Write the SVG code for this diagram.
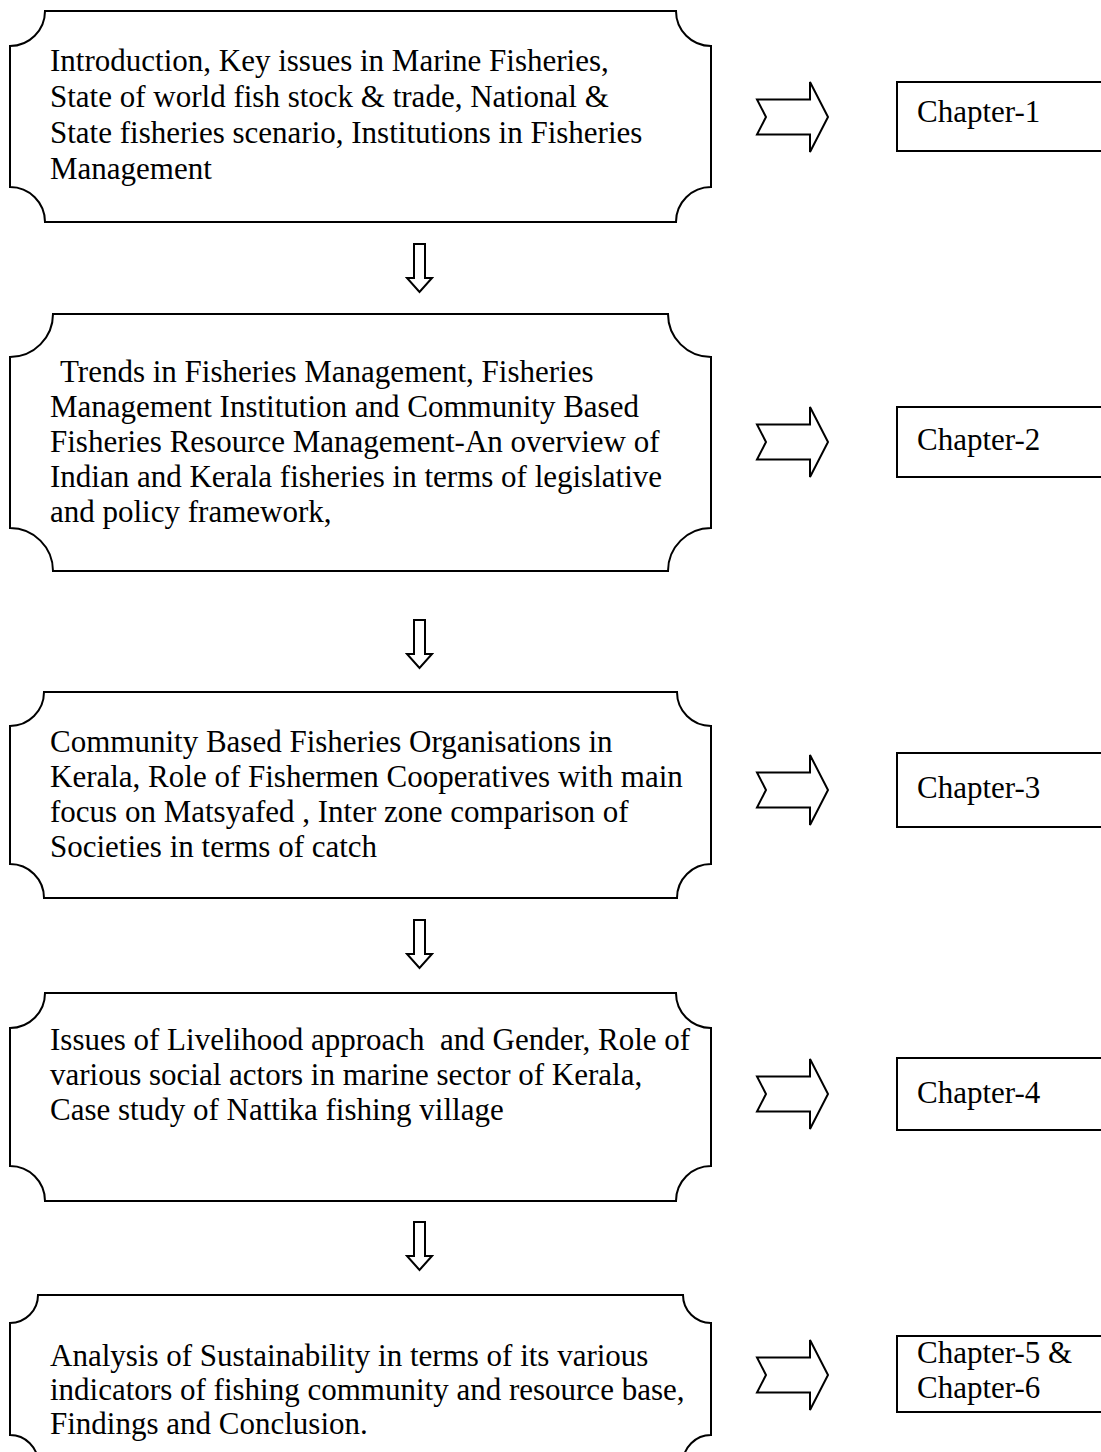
<svg xmlns="http://www.w3.org/2000/svg" width="1101" height="1452" viewBox="0 0 1101 1452">
  <style>
    .plaque { fill: #ffffff; stroke: #000000; stroke-width: 2; }
    .chap { fill: #ffffff; stroke: #000000; stroke-width: 2; }
    .arrow { fill: #ffffff; stroke: #000000; stroke-width: 2; stroke-linejoin: miter; }
    text { font-family: "Liberation Serif", "Times New Roman", serif; font-size: 31px; fill: #000000; }
  </style>
  <rect width="1101" height="1452" fill="#ffffff"/>

  <!-- Stage 1 -->
  <g id="stage1">
    <path class="plaque" d="M45,11 H676 A35,35 0 0 0 711,46 V187 A35,35 0 0 0 676,222 H45 A35,35 0 0 0 10,187 V46 A35,35 0 0 0 45,11 Z"/>
    <text x="50" y="71">Introduction, Key issues in Marine Fisheries,</text>
    <text x="50" y="107">State of world fish stock &amp; trade, National &amp;</text>
    <text x="50" y="143">State fisheries scenario, Institutions in Fisheries</text>
    <text x="50" y="179">Management</text>
  </g>
  <g id="chapter1">
    <rect class="chap" x="897" y="82" width="230" height="69"/>
    <text x="917" y="122">Chapter-1</text>
  </g>

  <!-- Stage 2 -->
  <g id="stage2">
    <path class="plaque" d="M53,314 H668 A43,43 0 0 0 711,357 V528 A43,43 0 0 0 668,571 H53 A43,43 0 0 0 10,528 V357 A43,43 0 0 0 53,314 Z"/>
    <text x="60" y="382">Trends in Fisheries Management, Fisheries</text>
    <text x="50" y="417">Management Institution and Community Based</text>
    <text x="50" y="452">Fisheries Resource Management-An overview of</text>
    <text x="50" y="487">Indian and Kerala fisheries in terms of legislative</text>
    <text x="50" y="522">and policy framework,</text>
  </g>
  <g id="chapter2">
    <rect class="chap" x="897" y="407" width="230" height="70"/>
    <text x="917" y="450">Chapter-2</text>
  </g>

  <!-- Stage 3 -->
  <g id="stage3">
    <path class="plaque" d="M44,692 H677 A34,34 0 0 0 711,726 V864 A34,34 0 0 0 677,898 H44 A34,34 0 0 0 10,864 V726 A34,34 0 0 0 44,692 Z"/>
    <text x="50" y="752">Community Based Fisheries Organisations in</text>
    <text x="50" y="787">Kerala, Role of Fishermen Cooperatives with main</text>
    <text x="50" y="822">focus on Matsyafed , Inter zone comparison of</text>
    <text x="50" y="857">Societies in terms of catch</text>
  </g>
  <g id="chapter3">
    <rect class="chap" x="897" y="753" width="230" height="74"/>
    <text x="917" y="798">Chapter-3</text>
  </g>

  <!-- Stage 4 -->
  <g id="stage4">
    <path class="plaque" d="M45,993 H676 A35,35 0 0 0 711,1028 V1166 A35,35 0 0 0 676,1201 H45 A35,35 0 0 0 10,1166 V1028 A35,35 0 0 0 45,993 Z"/>
    <text x="50" y="1050">Issues of Livelihood approach &#160;and Gender, Role of</text>
    <text x="50" y="1085">various social actors in marine sector of Kerala,</text>
    <text x="50" y="1120">Case study of Nattika fishing village</text>
  </g>
  <g id="chapter4">
    <rect class="chap" x="897" y="1058" width="230" height="72"/>
    <text x="917" y="1103">Chapter-4</text>
  </g>

  <!-- Stage 5 -->
  <g id="stage5">
    <path class="plaque" d="M38,1295 H683 A28,28 0 0 0 711,1323 V1435 A28,28 0 0 0 683,1463 H38 A28,28 0 0 0 10,1435 V1323 A28,28 0 0 0 38,1295 Z"/>
    <text x="50" y="1366">Analysis of Sustainability in terms of its various</text>
    <text x="50" y="1400">indicators of fishing community and resource base,</text>
    <text x="50" y="1434">Findings and Conclusion.</text>
  </g>
  <g id="chapter56">
    <rect class="chap" x="897" y="1336" width="230" height="76"/>
    <text x="917" y="1363">Chapter-5 &amp;</text>
    <text x="917" y="1398">Chapter-6</text>
  </g>

  <!-- Connectors: block arrows between stages and towards chapters -->
  <g id="connectors">
    <defs>
      <path id="rightArrow" d="M757,-17.5 H810 V-35 L828,0 L810,35 V17.5 H757 L766,0 Z"/>
      <path id="downArrow" d="M-5.5,0 H5.5 V34 H12.5 L0,48 L-12.5,34 H-5.5 Z"/>
    </defs>
    <use href="#rightArrow" class="arrow" transform="translate(0,117)"/>
    <use href="#rightArrow" class="arrow" transform="translate(0,442)"/>
    <use href="#rightArrow" class="arrow" transform="translate(0,790)"/>
    <use href="#rightArrow" class="arrow" transform="translate(0,1094)"/>
    <use href="#rightArrow" class="arrow" transform="translate(0,1375)"/>
    <use href="#downArrow" class="arrow" transform="translate(419.5,244)"/>
    <use href="#downArrow" class="arrow" transform="translate(419.5,620)"/>
    <use href="#downArrow" class="arrow" transform="translate(419.5,920)"/>
    <use href="#downArrow" class="arrow" transform="translate(419.5,1222)"/>
  </g>
</svg>
